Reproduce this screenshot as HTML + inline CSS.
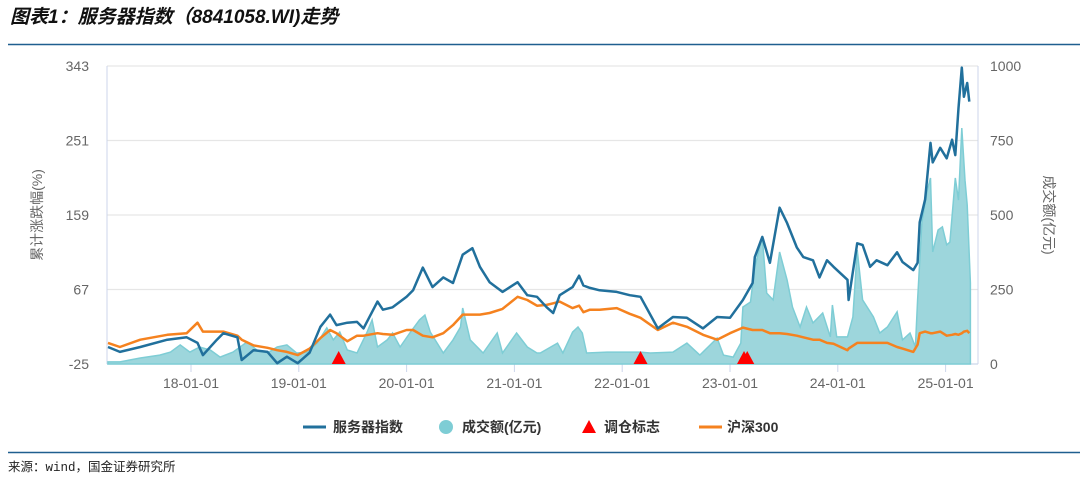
<!DOCTYPE html>
<html><head><meta charset="utf-8">
<style>
body{margin:0;background:#fff;width:1086px;height:480px;overflow:hidden;font-family:"Liberation Sans","Noto Sans CJK SC",sans-serif;}
svg{position:absolute;left:0;top:0}
</style></head>
<body>
<svg id="chart" width="1086" height="480" xmlns="http://www.w3.org/2000/svg">
<text x="10" y="23" font-size="19" font-weight="bold" font-style="italic" fill="#111" font-family="'Liberation Sans','Noto Sans CJK SC',sans-serif">图表1：服务器指数（8841058.WI)走势</text>
<line x1="8" y1="44.5" x2="1080" y2="44.5" stroke="#1f5f8f" stroke-width="1.5"/>
<line x1="8" y1="452.5" x2="1080" y2="452.5" stroke="#1f5f8f" stroke-width="1.5"/>
<text x="8" y="471" font-size="12.5" fill="#222" font-family="'Liberation Mono','Noto Sans CJK SC',monospace">来源：wind，国金证券研究所</text>
<g id="plot"></g>
<g font-size="14" font-weight="bold" fill="#333">
 <g><line x1="303" y1="427" x2="326" y2="427" stroke="#21709c" stroke-width="3"/><text x="333" y="432">服务器指数</text></g>
 <g><circle cx="446" cy="427" r="7" fill="#7ecdd5"/><text x="462" y="432">成交额(亿元)</text></g>
 <g><polygon points="589,420 596,433 582,433" fill="#f00"/><text x="604" y="432">调仓标志</text></g>
 <g><line x1="699" y1="427" x2="722" y2="427" stroke="#f5821f" stroke-width="3"/><text x="727" y="432">沪深300</text></g>
</g>
</svg>
<script>
const lineDates=[2017.23,2017.34,2017.53,2017.78,2017.96,2018.06,2018.11,2018.24,2018.30,2018.43,2018.47,2018.58,2018.71,2018.80,2018.89,2018.99,2019.10,2019.20,2019.29,2019.35,2019.45,2019.54,2019.60,2019.73,2019.78,2019.87,2020.00,2020.06,2020.15,2020.24,2020.34,2020.43,2020.52,2020.61,2020.68,2020.77,2020.89,2021.03,2021.12,2021.21,2021.30,2021.36,2021.42,2021.54,2021.60,2021.64,2021.70,2021.79,2021.95,2022.07,2022.17,2022.33,2022.47,2022.60,2022.75,2022.88,2023.00,2023.12,2023.21,2023.23,2023.30,2023.37,2023.46,2023.53,2023.62,2023.68,2023.77,2023.83,2023.90,2023.96,2024.09,2024.10,2024.18,2024.23,2024.30,2024.36,2024.46,2024.55,2024.60,2024.70,2024.74,2024.76,2024.81,2024.86,2024.88,2024.95,2025.01,2025.06,2025.09,2025.12,2025.15,2025.17,2025.20,2025.22];
const indexValues=[-4,-10,-4,5,8,1,-14,5,13,8,-20,-8,-10,-24,-16,-24,-11,21,36,23,26,27,19,52,42,45,58,66,94,70,82,75,110,118,95,76,64,76,60,58,45,38,60,70,84,72,69,66,64,60,58,19,33,32,19,33,32,54,75,107,132,100,168,149,119,107,103,82,103,95,79,54,124,122,95,103,97,113,101,91,100,150,178,248,224,242,229,252,233,291,341,305,322,299];
const hs300Values=[1,-4,5,11,13,26,15,15,15,10,5,-2,-5,-8,-10,-14,-6,7,17,13,3,10,10,13,12,11,17,17,10,8,13,23,36,36,36,38,43,58,54,47,48,50,52,44,47,39,42,42,44,37,32,17,26,21,11,5,13,20,17,17,17,13,13,12,10,8,5,5,1,0,-8,-6,1,1,1,1,1,-4,-6,-10,-1,13,15,13,13,15,10,11,12,11,13,15,16,13];
const volDates=[2017.23,2017.34,2017.53,2017.71,2017.81,2017.90,2017.99,2018.08,2018.18,2018.27,2018.39,2018.52,2018.61,2018.71,2018.80,2018.89,2018.98,2019.08,2019.17,2019.26,2019.32,2019.38,2019.45,2019.54,2019.63,2019.68,2019.73,2019.82,2019.87,2019.94,2020.03,2020.12,2020.17,2020.22,2020.34,2020.43,2020.50,2020.52,2020.59,2020.71,2020.84,2020.89,2021.02,2021.12,2021.21,2021.24,2021.40,2021.45,2021.54,2021.59,2021.63,2021.67,2021.86,2022.17,2022.26,2022.47,2022.60,2022.72,2022.88,2022.94,2023.03,2023.10,2023.12,2023.19,2023.23,2023.30,2023.34,2023.40,2023.46,2023.53,2023.58,2023.65,2023.71,2023.77,2023.86,2023.93,2023.95,2023.99,2024.09,2024.14,2024.18,2024.23,2024.33,2024.39,2024.46,2024.55,2024.60,2024.67,2024.72,2024.74,2024.78,2024.83,2024.86,2024.88,2024.93,2024.97,2025.01,2025.04,2025.09,2025.12,2025.15,2025.18,2025.20,2025.23];
const volValues=[7,7,20,30,40,64,40,57,47,23,40,74,47,37,57,64,37,40,70,121,81,107,47,37,104,148,57,81,104,57,104,148,164,107,37,81,124,188,81,37,104,37,104,57,37,37,70,37,107,124,104,37,40,40,37,40,70,30,87,30,23,70,191,208,326,426,238,215,376,282,191,124,191,138,171,91,198,91,91,158,383,215,158,104,124,175,81,104,57,215,477,584,624,376,450,460,400,409,624,550,792,617,534,272];
const markerDates=[2019.37,2022.17,2023.13,2023.16];
const leftTicks=[343,251,159,67,-25];
const rightTicks=[1000,750,500,250,0];
const xTickYears=[2018,2019,2020,2021,2022,2023,2024,2025];
const xTickLabels=['18-01-01','19-01-01','20-01-01','21-01-01','22-01-01','23-01-01','24-01-01','25-01-01'];

const NS='http://www.w3.org/2000/svg';
const X0=107,X1=978,Y0=66,Y1=364;
const xs=t=>191+(t-2018)*107.8;
const yl=v=>Y1-(v+25)/368*(Y1-Y0);
const yr=v=>Y1-v/1000*(Y1-Y0);
const g=document.getElementById('plot');
function mk(tag,attrs){const e=document.createElementNS(NS,tag);for(const k in attrs)e.setAttribute(k,attrs[k]);g.appendChild(e);return e;}
// gridlines
leftTicks.forEach((v,i)=>{
 const l=mk('line',{x1:X0,x2:X1,y1:yl(v),y2:yl(v),stroke:i==4?'#ccd6eb':'#e6e6e6','stroke-width':1.2});
 
 
 const t=mk('text',{x:89,y:yl(v)+5,'text-anchor':'end','font-size':14,fill:'#666'});t.textContent=v;
 
 
});
rightTicks.forEach(v=>{
 const t=mk('text',{x:990,y:yr(v)+5,'font-size':14,fill:'#666'});t.textContent=v;
 
 
});
const bl=mk('line',{x1:X0,x2:X0,y1:Y0,y2:Y1,stroke:'#ccd6eb'});


const br=mk('line',{x1:X1,x2:X1,y1:Y0,y2:Y1,stroke:'#ccd6eb'});


xTickYears.forEach((yv,i)=>{
 const x=xs(yv);
 const tk=mk('line',{x1:x,x2:x,y1:Y1,y2:Y1+8,stroke:'#ccd6eb'});
 
 
 const t=mk('text',{x:x,y:388,'text-anchor':'middle','font-size':14,fill:'#666'});t.textContent=xTickLabels[i];
 
 
});
// volume area
let d='M'+xs(volDates[0])+','+Y1;
volDates.forEach((t,i)=>{d+=' L'+xs(t).toFixed(1)+','+yr(volValues[i]).toFixed(1);});
d+=' L'+xs(volDates[volDates.length-1])+','+Y1+' Z';
const area=mk('path',{d:d,fill:'#9dd6dc',stroke:'#7ecdd5','stroke-width':1.5});


function line(vals,color,name){
 let p='';lineDates.forEach((t,i)=>{p+=(i?' L':'M')+xs(t).toFixed(1)+','+yl(vals[i]).toFixed(1);});
 const e=mk('path',{d:p,fill:'none',stroke:color,'stroke-width':2.5,'stroke-linejoin':'round'});
 
 
}
line(hs300Values,'#f5821f','hs300-line');
line(indexValues,'#21709c','server-index-line');
markerDates.forEach(t=>{
 const x=xs(t);
 const m=mk('polygon',{points:`${x},${Y1-13} ${x+7},${Y1} ${x-7},${Y1}`,fill:'#f00'});
 
 
});
const lt=mk('text',{transform:'translate(42,215) rotate(-90)','text-anchor':'middle','font-size':14,fill:'#666'});lt.textContent='累计涨跌幅(%)';


const rt=mk('text',{transform:'translate(1044,215) rotate(90)','text-anchor':'middle','font-size':14,fill:'#666'});rt.textContent='成交额(亿元)';


</script>
</body></html>
